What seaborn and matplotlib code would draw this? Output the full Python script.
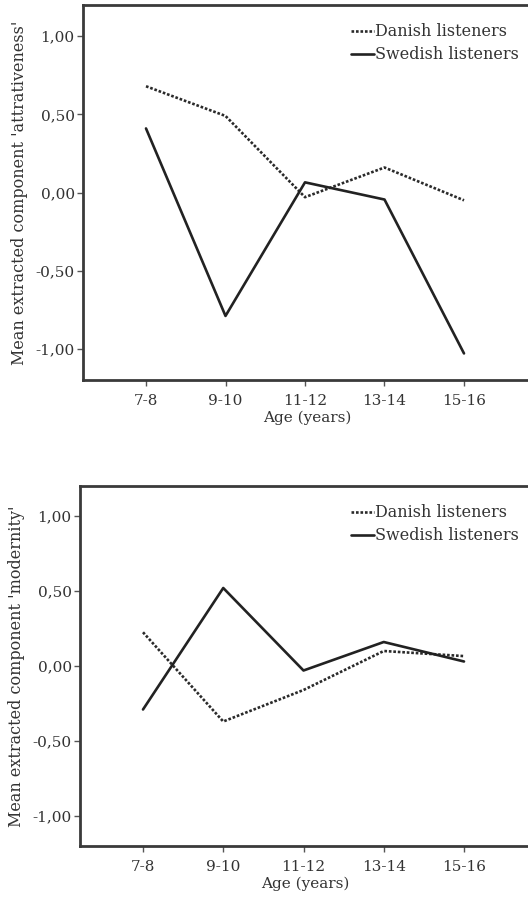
import matplotlib
matplotlib.use("Agg")
import matplotlib.pyplot as plt
import seaborn as sns
import pandas as pd

ages = ["7-8", "9-10", "11-12", "13-14", "15-16"]
attr_danish = [0.68, 0.49, -0.03, 0.16, -0.05]
attr_swedish = [0.41, -0.79, 0.065, -0.045, -1.03]
mod_danish = [0.225, -0.37, -0.16, 0.10, 0.066]
mod_swedish = [-0.29, 0.52, -0.03, 0.16, 0.03]
ytick_vals = [-1.0, -0.5, 0.0, 0.5, 1.0]
ytick_labels = ["-1,00", "-0,50", "0,00", "0,50", "1,00"]
series_names = ["Danish listeners", "Swedish listeners"]
ylabels = ["Mean extracted component 'attrativeness'",
           "Mean extracted component 'modernity'"]
xlabel = "Age (years)"

sns.set_theme(style="white")
plt.rcParams['font.family'] = ['DejaVu Serif', 'Liberation Serif']
TXT = "#333333"

fig = plt.figure(figsize=(5.28, 9.06), dpi=100)
W, H = 528, 906

def make_df(dan, swe):
    return pd.DataFrame({
        "age": ages * 2,
        "value": dan + swe,
        "group": [series_names[0]] * 5 + [series_names[1]] * 5,
    })

panels = [
    (attr_danish, attr_swedish, ylabels[0], (83, 5, 531, 380), 79.5, 146),
    (mod_danish, mod_swedish, ylabels[1], (80, 486, 531, 846), 80.25, 143),
]

for dan, swe, ylab, (l, t, r, b), dx, x0 in panels:
    ax = fig.add_axes([l / W, (H - b) / H, (r - l) / W, (b - t) / H])
    df = make_df(dan, swe)
    sns.lineplot(data=df, x="age", y="value", hue="group", style="group",
                 palette={series_names[0]: "#2a2a2a", series_names[1]: "#222222"},
                 dashes={series_names[0]: (1, 0.7), series_names[1]: ""},
                 linewidth=1.9, ax=ax, legend=False, sort=False)
    ax.set_xlim(-(x0 - l) / dx, (r - x0) / dx)
    ax.set_ylim(-1.2, 1.2)
    ax.set_yticks(ytick_vals)
    ax.set_yticklabels(ytick_labels)
    ax.set_xlabel(xlabel, fontsize=11, color=TXT, labelpad=2)
    ax.set_ylabel(ylab, fontsize=11.5, color=TXT, labelpad=5)
    for s in ["left", "top", "bottom", "right"]:
        ax.spines[s].set_color("#3a3a3a")
        ax.spines[s].set_linewidth(2.0)
    ax.tick_params(axis="both", which="both", direction="out", length=4,
                   width=1.0, color="#555555", labelsize=11, labelcolor=TXT,
                   left=True, bottom=True, pad=2)
    ax.tick_params(axis="x", pad=6)
    h1, = ax.plot([], [], color="#2a2a2a", linestyle=(0, (1, 0.7)), linewidth=1.9)
    h2, = ax.plot([], [], color="#222222", linestyle="-", linewidth=1.9)
    leg = ax.legend([h1, h2], series_names, loc="upper left",
                    bbox_to_anchor=((345 - l) / (r - l), 1 - 12 / (b - t)),
                    frameon=False, fontsize=11.5, handlelength=1.4,
                    handletextpad=0.05, labelspacing=0.38, borderaxespad=0)
    for tx in leg.get_texts():
        tx.set_color(TXT)

fig.savefig("out.png", dpi=100)
